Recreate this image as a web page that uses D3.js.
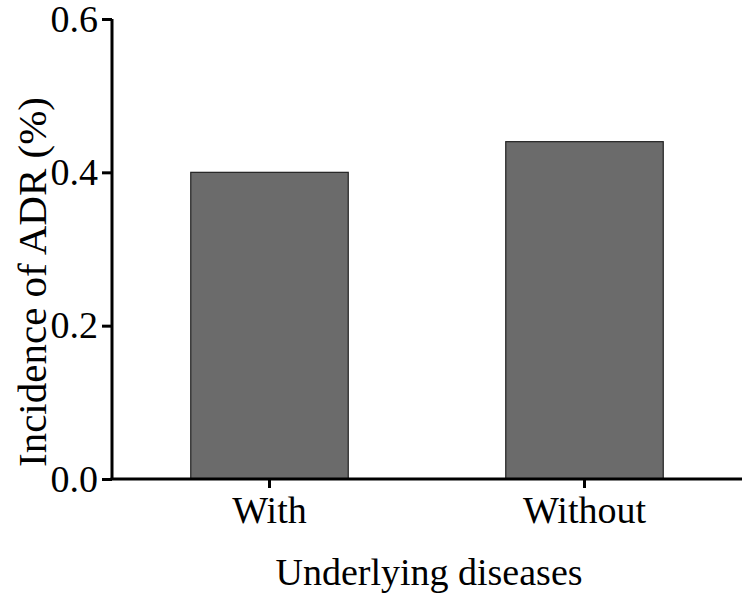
<!DOCTYPE html>
<html>
<head>
<meta charset="utf-8">
<script src="https://cdn.jsdelivr.net/npm/d3@7"></script>
</head>
<body style="margin:0">
<script>
var categories = ["With", "Without"]
var values = [0.40, 0.44]
var yTicks = [0.0, 0.2, 0.4, 0.6]

var w = 747
var h = 596
var m = { left: 112, right: 5, top: 19, bottom: 117 }
var fontSize = 38

var svg = d3.select("body").append("svg")
	.attr("width", w)
	.attr("height", h)
	.attr("font-family", "'Liberation Serif'")
	.style("font-family", "'Liberation Serif', serif")

var x = d3.scaleBand()
	.domain(categories)
	.range([m.left, w - m.right])
	.paddingInner(0.5)
	.paddingOuter(0.25)

var y = d3.scaleLinear()
	.domain([0, 0.6])
	.range([h - m.bottom, m.top])

// bars
svg.selectAll("rect.bar")
	.data(values)
	.enter()
	.append("rect")
	.attr("class", "bar")
	.attr("x", (d, i) => x(categories[i]))
	.attr("y", d => y(d))
	.attr("width", x.bandwidth())
	.attr("height", d => y(0) - y(d))
	.attr("fill", "#6b6b6b")
	.attr("stroke", "#222")
	.attr("stroke-width", 1.2)

// y axis
var yAxis = svg.append("g")
	.attr("transform", "translate(" + m.left + ",0)")
	.call(d3.axisLeft(y).tickValues(yTicks).tickFormat(d3.format(".1f")).tickSize(10).tickPadding(4))
yAxis.attr("font-family", null).attr("font-size", fontSize)
yAxis.select(".domain").attr("stroke-width", 3).attr("d", "M0," + y(0) + "V" + y(0.6))
yAxis.selectAll(".tick line").attr("stroke-width", 3)

// x axis
var xAxis = svg.append("g")
	.attr("transform", "translate(0," + y(0) + ")")
	.call(d3.axisBottom(x).tickSize(9).tickPadding(8))
xAxis.attr("font-family", null).attr("font-size", fontSize)
xAxis.select(".domain").attr("stroke-width", 3).attr("d", "M" + (m.left - 1.5) + ",0H" + (w - m.right))
xAxis.selectAll(".tick line").attr("stroke-width", 3)

// axis titles
svg.append("text")
	.attr("x", 429)
	.attr("y", 585)
	.attr("text-anchor", "middle")
	.attr("font-size", fontSize)
	.text("Underlying diseases")

svg.append("text")
	.attr("transform", "translate(46,282) rotate(-90)")
	.attr("text-anchor", "middle")
	.attr("font-size", 41)
	.text("Incidence of ADR (%)")
</script>
</body>
</html>
